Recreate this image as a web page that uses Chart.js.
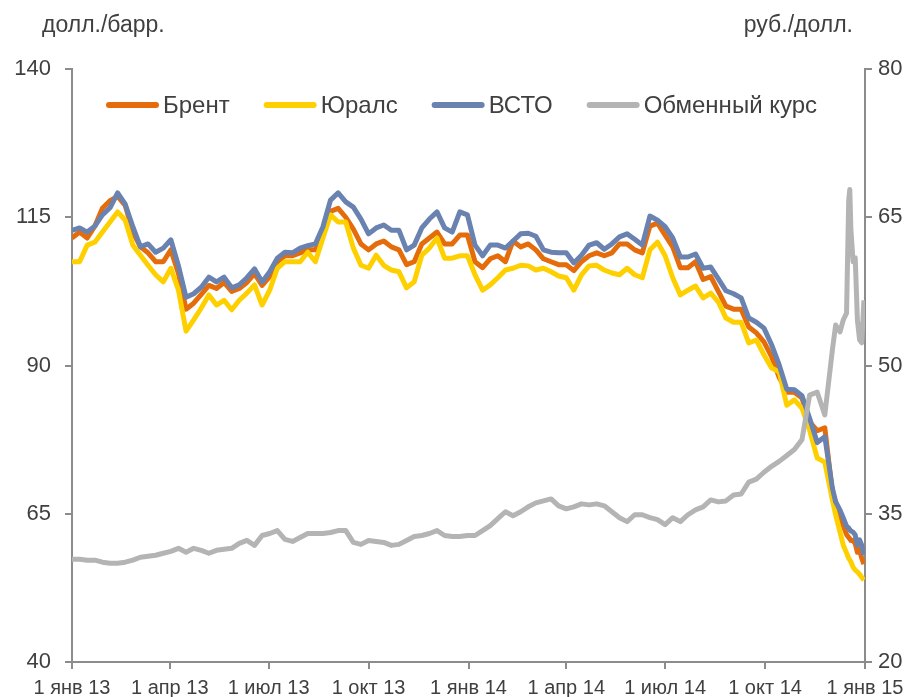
<!DOCTYPE html>
<html>
<head>
<meta charset="utf-8">
<script src="https://cdn.jsdelivr.net/npm/chart.js@4.4.1/dist/chart.umd.min.js"></script>
<style>
  html, body { margin: 0; padding: 0; background: #fff; }
</style>
</head>
<body>
<canvas id="oilChart" width="920" height="697"></canvas>
<script>
// days since 1 Jan 2013 (weekly, denser in the last weeks)
const dates = [
  0, 7, 14, 21, 28, 35, 42, 49, 56, 63,
  70, 77, 84, 91, 98, 105, 112, 119, 126, 133,
  140, 147, 154, 161, 168, 175, 182, 189, 196, 203,
  210, 217, 224, 231, 238, 245, 252, 259, 266, 273,
  280, 287, 294, 301, 308, 315, 322, 329, 336, 343,
  350, 357, 364, 371, 378, 385, 392, 399, 406, 413,
  420, 427, 434, 441, 448, 455, 462, 469, 476, 483,
  490, 497, 504, 511, 518, 525, 532, 539, 546, 553,
  560, 567, 574, 581, 588, 595, 602, 609, 616, 623,
  630, 637, 644, 651, 658, 665, 672, 679, 686, 693,
  700, 703, 707, 710, 713, 715, 716, 717, 719, 721, 723, 725, 727, 729
]

const brent = [
  111.5, 112.5, 111.5, 113.5, 116.5, 117.8, 118.5, 117.0, 112.5, 110.0,
  109.0, 107.5, 107.5, 109.5, 105.5, 99.5, 100.5, 102.0, 103.5, 103.0,
  104.0, 102.5, 103.0, 104.0, 105.5, 103.5, 105.0, 107.5, 108.5, 108.5,
  109.0, 109.5, 109.5, 112.0, 116.0, 116.5, 115.0, 113.0, 110.5, 109.5,
  110.5, 111.0, 110.0, 109.5, 107.0, 107.5, 110.5, 111.5, 112.5, 110.5,
  110.5, 112.0, 112.0, 107.5, 106.5, 108.0, 108.5, 107.5, 111.0, 110.0,
  110.5, 109.5, 108.0, 107.5, 107.0, 107.0, 106.0, 107.5, 108.5, 109.0,
  108.5, 109.0, 110.5, 110.5, 109.5, 109.0, 113.5, 114.0, 112.0, 110.0,
  106.5, 106.5, 107.5, 104.5, 105.0, 102.5, 100.0, 99.5, 99.5, 96.5,
  95.5, 94.0, 91.5, 88.0, 85.5, 85.5, 84.5, 80.5, 79.0, 79.5,
  68.5, 67.0, 64.5, 63.0, 61.5, 61.0, 60.8, 60.5, 60.5, 60.0, 58.5, 59.0, 57.5, 56.5
]

const urals = [
  107.5, 107.5, 110.3, 110.8, 112.5, 114.2, 115.9, 114.5, 110.3, 108.6,
  106.9, 105.3, 104.1, 106.4, 102.7, 95.8, 97.7, 99.7, 101.9, 100.2,
  101.0, 99.4, 101.0, 102.2, 103.6, 100.2, 102.7, 106.4, 107.5, 107.5,
  107.5, 109.1, 107.5, 111.5, 115.4, 114.2, 114.2, 109.8, 106.9, 106.4,
  108.6, 106.9, 106.1, 105.8, 103.1, 104.1, 108.6, 109.8, 111.5, 108.1,
  108.1, 108.5, 108.5, 105.3, 102.7, 103.6, 104.8, 106.1, 106.4, 106.9,
  106.8, 106.1, 106.4, 105.8, 105.1, 104.8, 102.7, 105.3, 106.8, 106.9,
  106.1, 105.6, 105.3, 106.4, 105.3, 104.8, 109.5, 110.8, 108.5, 104.8,
  101.9, 102.7, 103.4, 101.4, 102.2, 100.7, 98.0, 97.3, 97.3, 93.8,
  94.3, 91.8, 89.6, 88.9, 83.3, 84.2, 82.8, 79.1, 74.4, 73.7,
  67.3, 64.8, 61.9, 59.7, 58.4, 57.5, 57.2, 56.9, 56.0, 55.5, 55.2, 54.8, 54.3, 53.8
]

const espo = [
  112.8, 113.2, 112.5, 113.5, 115.4, 116.6, 119.1, 117.2, 113.4, 110.0,
  110.5, 109.1, 109.8, 111.2, 106.8, 101.5, 102.1, 103.2, 104.9, 104.1,
  104.9, 103.1, 103.6, 104.8, 106.3, 104.1, 105.8, 108.1, 109.1, 109.0,
  109.8, 110.2, 110.5, 113.4, 117.9, 119.1, 117.6, 116.7, 114.7, 112.2,
  113.2, 113.7, 112.8, 112.8, 109.5, 110.3, 113.2, 114.7, 115.9, 113.2,
  112.5, 115.9, 115.4, 110.3, 108.5, 110.3, 110.3, 109.8, 111.0, 112.2,
  112.3, 111.8, 109.5, 109.1, 109.0, 109.0, 107.3, 108.6, 110.3, 110.7,
  109.6, 110.5, 111.7, 112.2, 111.3, 110.3, 115.2, 114.5, 113.4, 111.5,
  108.3, 108.3, 108.8, 106.4, 106.6, 104.6, 102.6, 102.1, 101.4, 98.0,
  97.3, 96.3, 93.5, 90.1, 86.0, 85.9, 84.9, 81.1, 77.0, 78.0,
  69.3, 67.0, 65.6, 64.3, 62.9, 62.6, 62.3, 62.1, 61.9, 61.4, 59.7, 60.6, 59.7, 58.0
]

const rubUsd = [
  30.4, 30.4, 30.3, 30.3, 30.1, 30.0, 30.0, 30.1, 30.3, 30.6,
  30.7, 30.8, 31.0, 31.2, 31.5, 31.1, 31.5, 31.3, 31.0, 31.3,
  31.4, 31.5, 32.0, 32.3, 31.8, 32.8, 33.0, 33.3, 32.4, 32.2,
  32.6, 33.0, 33.0, 33.0, 33.1, 33.3, 33.3, 32.1, 31.9, 32.3,
  32.2, 32.1, 31.8, 31.9, 32.3, 32.7, 32.8, 33.0, 33.3, 32.8,
  32.7, 32.7, 32.8, 32.8, 33.3, 33.8, 34.5, 35.2, 34.8, 35.2,
  35.7, 36.1, 36.3, 36.5, 35.8, 35.5, 35.7, 36.0, 35.9, 36.0,
  35.8, 35.2, 34.6, 34.2, 34.9, 34.9, 34.6, 34.4, 33.9, 34.6,
  34.2, 34.9, 35.4, 35.7, 36.4, 36.2, 36.3, 36.9, 37.0, 38.2,
  38.5, 39.2, 39.8, 40.3, 40.9, 41.5, 42.5, 47.0, 47.3, 45.0,
  51.6, 54.1, 53.4, 54.6, 55.3, 66.7, 67.8, 63.8, 60.5, 60.9, 54.6, 52.6, 52.3, 56.6
]

const tickDays = [0, 90, 181, 273, 365, 455, 546, 638, 730]
const tickLabels = ['1 янв 13', '1 апр 13', '1 июл 13', '1 окт 13', '1 янв 14', '1 апр 14', '1 июл 14', '1 окт 14', '1 янв 15']
const seriesNames = ['Брент', 'Юралс', 'ВСТО', 'Обменный курс']
const unitLeft = 'долл./барр.'
const unitRight = 'руб./долл.'

const FONT = '"Liberation Sans", Arial, sans-serif'
const TEXT = '#404040'
const AXIS = '#8c8c8c'

function points(values) {
  return dates.map((d, i) => ({ x: d, y: values[i] }))
}

function lineSet(label, values, color, axis, order) {
  return {
    label: label,
    data: points(values),
    borderColor: color,
    backgroundColor: color,
    borderWidth: 5,
    pointRadius: 0,
    tension: 0,
    borderJoinStyle: 'round',
    yAxisID: axis,
    order: order
  }
}

// units above the axes and a legend that sits inside the plot
const extras = {
  id: 'extras',
  afterDraw(chart) {
    const ctx = chart.ctx
    ctx.save()
    ctx.fillStyle = TEXT
    ctx.textBaseline = 'middle'
    ctx.font = '23px ' + FONT
    ctx.textAlign = 'left'
    ctx.fillText(unitLeft, 42, 26)
    ctx.textAlign = 'right'
    ctx.fillText(unitRight, 853, 26)

    ctx.textAlign = 'left'
    ctx.font = '24px ' + FONT
    let x = 106
    const y = chart.chartArea.top + 36
    chart.data.datasets.forEach(ds => {
      ctx.strokeStyle = ds.borderColor
      ctx.lineWidth = 6
      ctx.lineCap = 'round'
      ctx.beginPath()
      ctx.moveTo(x + 3, y)
      ctx.lineTo(x + 50, y)
      ctx.stroke()
      ctx.fillText(ds.label, x + 57, y + 1)
      x += 57 + ctx.measureText(ds.label).width + 34
    })
    ctx.restore()
  }
}

const axisGrid = {
  drawOnChartArea: false,
  drawTicks: true,
  tickLength: 7,
  color: AXIS,
  lineWidth: 2
}

new Chart(document.getElementById('oilChart'), {
  type: 'line',
  data: {
    datasets: [
      lineSet(seriesNames[0], brent, '#e46c0a', 'y', 4),
      lineSet(seriesNames[1], urals, '#ffd000', 'y', 3),
      lineSet(seriesNames[2], espo, '#6982b0', 'y', 2),
      lineSet(seriesNames[3], rubUsd, '#b4b4b4', 'y1', 1)
    ]
  },
  options: {
    responsive: false,
    animation: false,
    layout: { padding: { top: 69, left: 0, right: 0, bottom: 0 } },
    plugins: {
      legend: { display: false },
      tooltip: { enabled: false }
    },
    scales: {
      x: {
        type: 'linear',
        position: 'bottom',
        min: 0,
        max: 730,
        afterBuildTicks: s => { s.ticks = tickDays.map(v => ({ value: v })) },
        afterFit: s => { s.height = 35 },
        ticks: {
          autoSkip: false,
          maxRotation: 0,
          padding: 7,
          color: TEXT,
          font: { family: FONT, size: 20 },
          callback: (v, i) => tickLabels[i]
        },
        grid: axisGrid,
        border: { display: true, color: AXIS, width: 2 }
      },
      y: {
        position: 'left',
        min: 40,
        max: 140,
        afterFit: s => { s.width = 72 },
        ticks: { stepSize: 25, padding: 14, color: TEXT, font: { family: FONT, size: 22 } },
        grid: axisGrid,
        border: { display: true, color: AXIS, width: 2 }
      },
      y1: {
        position: 'right',
        min: 20,
        max: 80,
        afterFit: s => { s.width = 55 },
        ticks: { stepSize: 15, padding: 6, color: TEXT, font: { family: FONT, size: 22 } },
        grid: axisGrid,
        border: { display: true, color: AXIS, width: 2 }
      }
    }
  },
  plugins: [extras]
})
</script>
</body>
</html>
